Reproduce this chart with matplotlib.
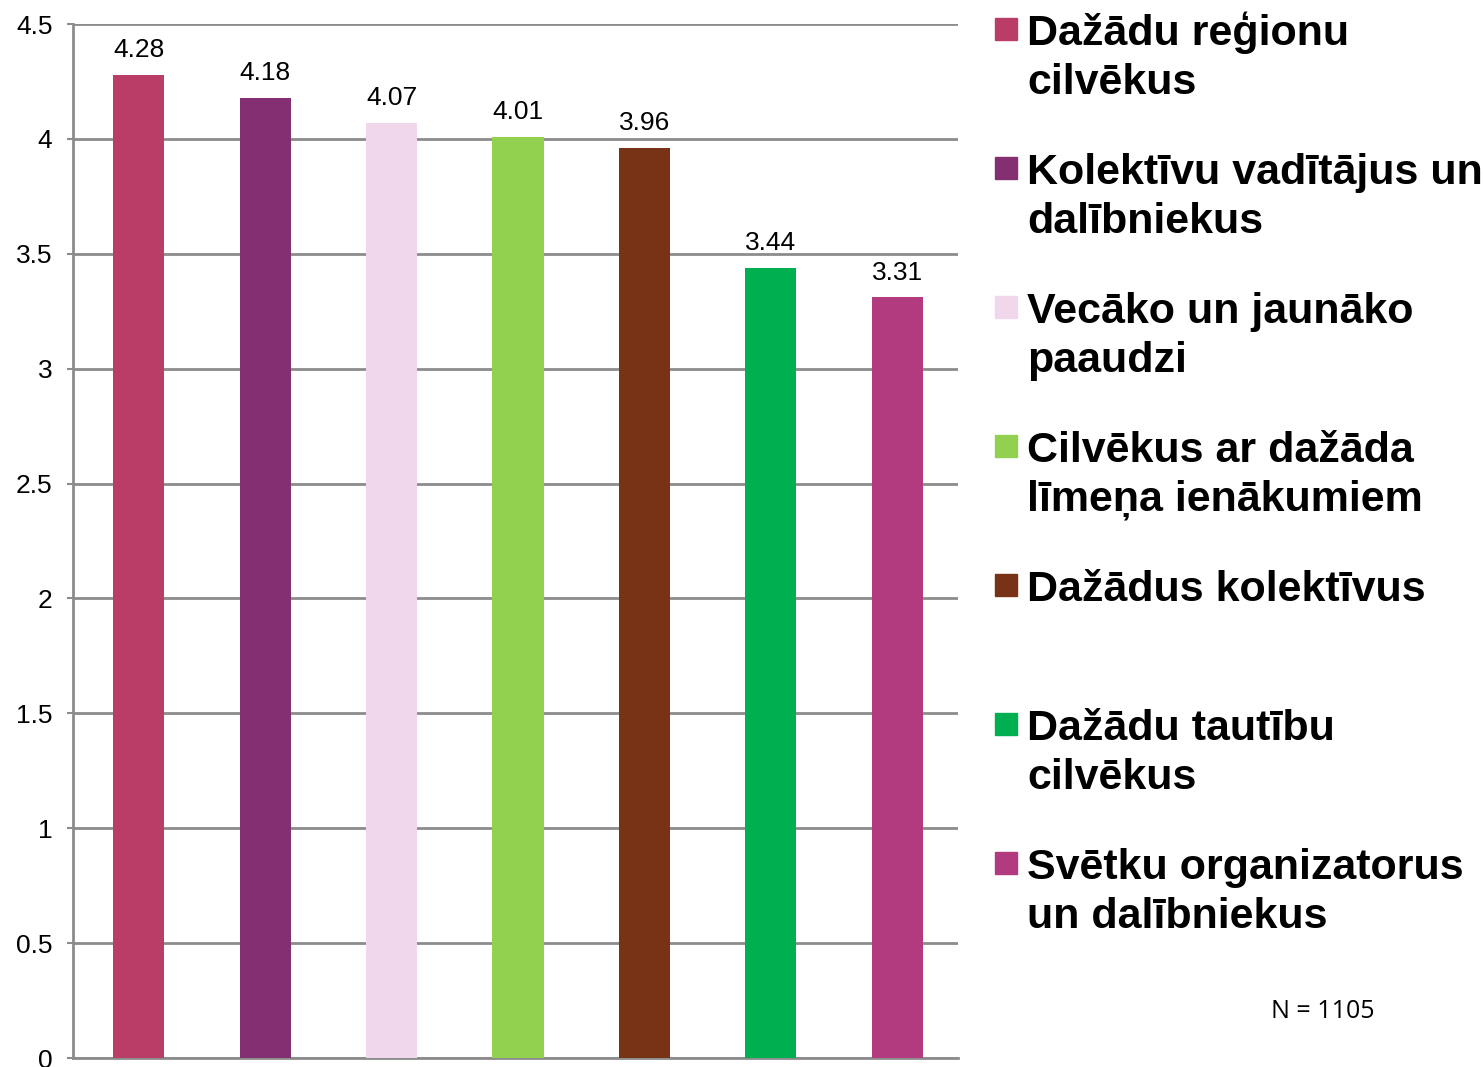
import numpy as np
import matplotlib.pyplot as plt
from matplotlib.patches import Rectangle

# Data
categories = ['Dažādu reģionu\ncilvēkus',
              'Kolektīvu vadītājus un\ndalībniekus',
              'Vecāko un jaunāko\npaaudzi',
              'Cilvēkus ar dažāda\nlīmeņa ienākumiem',
              'Dažādus kolektīvus',
              'Dažādu tautību\ncilvēkus',
              'Svētku organizatorus\nun dalībniekus']
values = [4.28, 4.18, 4.07, 4.01, 3.96, 3.44, 3.31]
colors = ['#BA3D67', '#852F73', '#F0D7EC', '#92D050', '#783316', '#00AF50', '#B23A7E']
yticks = [0, 0.5, 1, 1.5, 2, 2.5, 3, 3.5, 4, 4.5]

plt.rcParams['font.family'] = ['Liberation Sans', 'DejaVu Sans']

fig = plt.figure(figsize=(14.83, 10.67), dpi=100)
ax = fig.add_axes([73 / 1483, 9 / 1067, 885 / 1483, 1034 / 1067])

x = np.arange(len(values))
bars = ax.bar(x, values, width=0.405, color=colors, zorder=3)
for xi, v in zip(x, values):
    ax.text(xi, v + 0.055, f'{v:.2f}', ha='center', va='bottom', fontsize=19, zorder=4)

ax.set_xlim(-0.52, len(values) - 0.52)
ax.set_ylim(0, 4.5)
ax.set_yticks(yticks)
ax.set_yticklabels([f'{t:g}' for t in yticks], fontsize=19)
ax.set_xticks([])
ax.yaxis.grid(True, color='#8C8C8C', linewidth=2, zorder=0)
ax.tick_params(axis='y', length=4.3, width=1.5, color='#8C8C8C', pad=10.5)
for side in ['top', 'right']:
    ax.spines[side].set_visible(False)
for side in ['left', 'bottom']:
    ax.spines[side].set_color('#8C8C8C')
    ax.spines[side].set_linewidth(2)
ax.spines['left'].set_zorder(5)

# Legend drawn by hand to keep the spacing of the original
for i, (label, c) in enumerate(zip(categories, colors)):
    base = 45 + i * 139
    fig.patches.append(Rectangle((995 / 1483, (1067 - base + 5) / 1067), 22 / 1483, 22 / 1067,
                                 transform=fig.transFigure, color=c))
    lines = label.split('\n')
    for j, line in enumerate(lines):
        fig.text(1027 / 1483, (1067 - base - j * 49) / 1067, line, fontsize=31,
                 fontweight='bold', ha='left', va='baseline')

fig.text(1323 / 1483, 55 / 1067, 'N = 1105', fontsize=18, ha='center', va='center',
         family=['Open Sans', 'DejaVu Sans'])

fig.savefig('out.png', dpi=100)
